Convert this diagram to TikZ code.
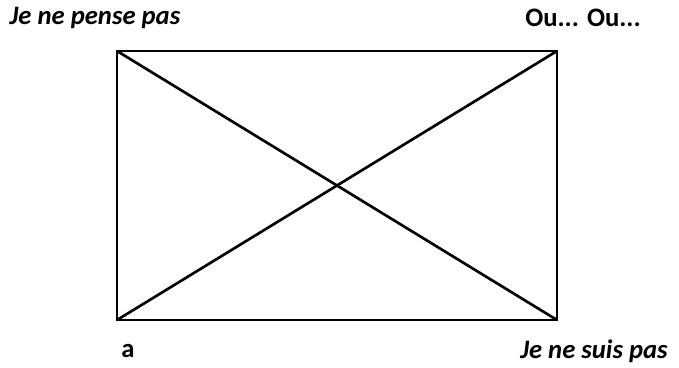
\documentclass[tikz,border=0pt]{standalone}
\usepackage{fontspec}
\setmainfont{Carlito}

\begin{document}
\begin{tikzpicture}[x=0.75pt,y=-0.75pt,line width=2pt,
    lbl/.style={font=\fontsize{20}{24}\selectfont\bfseries,inner sep=0pt}]
        \useasboundingbox(0,0)rectangle(679,368);
        \coordinate(A)at(117,320);
        \coordinate(B)at(557,320);
        \coordinate(C)at(557,51);
        \coordinate(D)at(117,51);
        \draw(A)--(B)--(C)--(D)--cycle;
        \draw(A)--(C);
        \draw(D)--(B);
        \node[lbl,font=\fontsize{20}{24}\selectfont\bfseries\itshape](pense)at(95,18){Je ne pense pas};
        \node[lbl](ouou)at(583,18){Ou... Ou...};
        \node[lbl](a)at(128,351){a};
        \node[lbl,font=\fontsize{20}{24}\selectfont\bfseries\itshape](suis)at(594,351){Je ne suis pas};
    \end{tikzpicture}
\end{document}
